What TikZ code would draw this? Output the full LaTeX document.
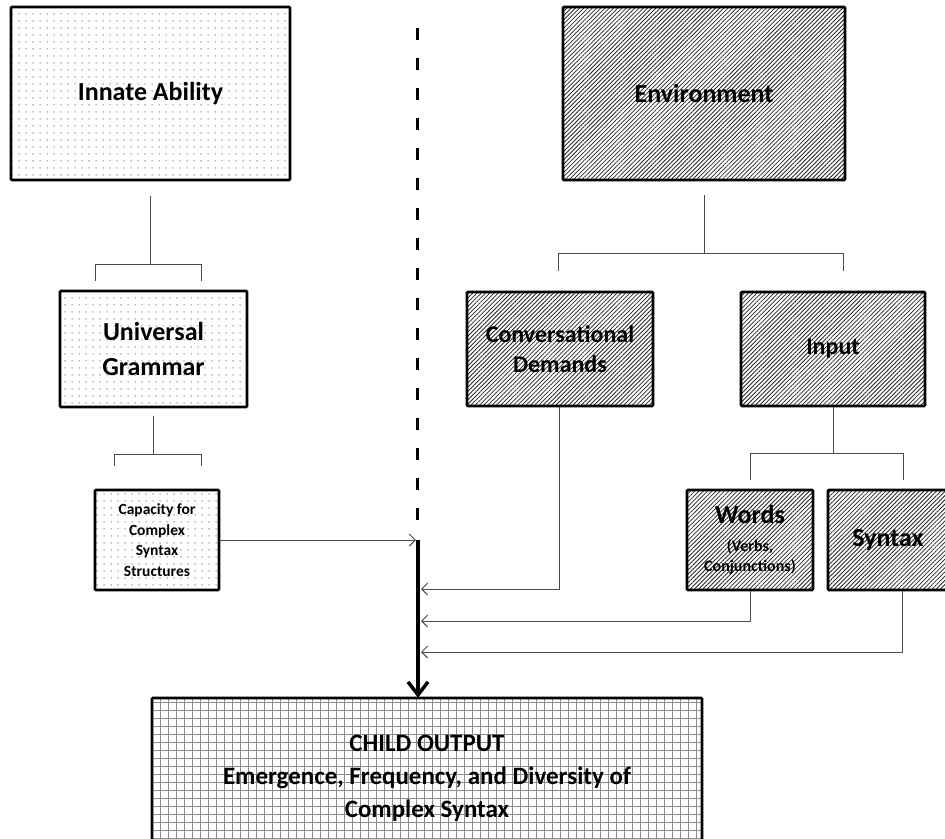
\documentclass[tikz,border=0pt]{standalone}
\usepackage{fontspec}
\setmainfont{Carlito}
\usetikzlibrary{patterns.meta,arrows.meta,calc}
\tikzset{
  x=1pt,y=-1pt,
  box/.style={draw=black,line width=2.6pt,rounded corners=1pt,inner sep=2pt,align=center,font=\bfseries},
  dotbox/.style={box,pattern={Dots[distance=6.5pt,radius=0.55pt]},pattern color=black},
  hatchbox/.style={box,pattern={Lines[angle=45,distance=3pt,line width=0.8pt]},pattern color=black!85},
  gridbox/.style={box,pattern={Hatch[angle=0,distance=8pt,line width=0.5pt]},pattern color=black!45},
  conn/.style={draw=black!70,line width=1pt},
  arr/.style={conn,-{Straight Barb[length=6pt,width=12pt,line width=1pt]}},
}
\begin{document}
\begin{tikzpicture}
\clip (0,0) rectangle (945,838);
\fill[white] (0,0) rectangle (945,838);
% boxes
\node[dotbox,minimum width=279pt,minimum height=173pt,font=\bfseries\fontsize{26}{30}\selectfont] (innate) at (150.5,93.5) {Innate Ability};
\node[hatchbox,minimum width=282pt,minimum height=173pt,font=\bfseries\fontsize{26}{30}\selectfont] (env) at (704,93.5) {Environment};
\node[dotbox,minimum width=187pt,minimum height=116pt,font=\bfseries\fontsize{26}{35}\selectfont] (ug) at (153.5,349) {Universal\\Grammar};
\node[dotbox,minimum width=124pt,minimum height=100pt,font=\bfseries\fontsize{15.5}{20.5}\selectfont] (cap) at (157,540) {Capacity for\\Complex\\Syntax\\Structures};
\node[hatchbox,minimum width=186pt,minimum height=114pt,font=\bfseries\fontsize{24}{30}\selectfont] (conv) at (560,349) {Conversational\\Demands};
\node[hatchbox,minimum width=184pt,minimum height=114pt,font=\bfseries\fontsize{24}{30}\selectfont] (input) at (833,349) {Input};
\node[hatchbox,minimum width=126pt,minimum height=100pt,font=\bfseries\fontsize{16}{20}\selectfont] (words) at (750,540) {{\fontsize{26}{28}\selectfont Words}\\[8pt](Verbs,\\Conjunctions)};
\node[hatchbox,minimum width=120pt,minimum height=100pt,font=\bfseries\fontsize{26}{30}\selectfont] (syntax) at (888,540) {Syntax};
\node[gridbox,minimum width=550pt,minimum height=160pt,font=\bfseries\fontsize{25}{33}\selectfont] (child) at (427,778) {CHILD OUTPUT\\Emergence, Frequency, and Diversity of\\Complex Syntax};
% divider
\coordinate (dtop) at (417,28);
\coordinate (dbot) at (417,532);
\draw[line width=3pt,dash pattern=on 12pt off 18pt] (dtop) -- (dbot);
% left tree
\draw[conn] ([yshift=-15pt]innate.south) -- ++(0,68) coordinate (lb1);
\draw[conn] ($(ug.north)+(-58.5,-9)$) |- (lb1) -| ($(ug.north)+(47.5,-9)$);
\draw[conn] ([yshift=-8pt]ug.south) -- ++(0,38) coordinate (lb2);
\draw[conn] ($(cap.north)+(-43,-23)$) |- (lb2) -| ($(cap.north)+(44,-23)$);
% right tree
\draw[conn] ([yshift=-15pt]env.south) -- ++(0,58) coordinate (rb1);
\draw[conn] ($(conv.north)+(-2,-20)$) |- (rb1) -| ($(input.north)+(10,-20)$);
\draw[conn] (input.south) -- ++(0,46) coordinate (rb2);
\draw[conn] ($(words.north)+(0,-9)$) |- (rb2) -| ($(syntax.north)+(15,-9)$);
% arrows into trunk
\coordinate (trunktop) at (418,540);
\draw[line width=4.5pt,-{Straight Barb[length=13pt,width=20pt,line width=3.5pt]}] (trunktop) -- (trunktop |- child.north);
\draw[arr] (cap.east) -- ([xshift=-2pt]trunktop);
\draw[arr] ($(conv.south)+(-1,0)$) |- (421,589);
\draw[arr] (words.south) |- (421,621);
\draw[arr] ($(syntax.south)+(14,0)$) |- (421,652);
\end{tikzpicture}
\end{document}
